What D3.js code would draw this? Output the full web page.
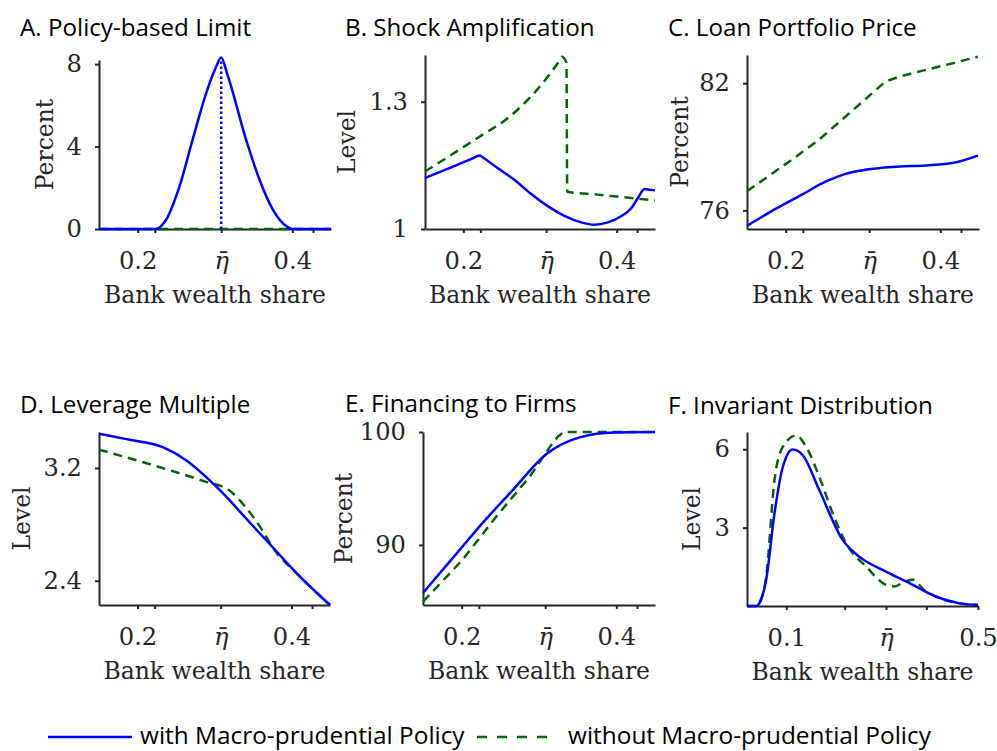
<!DOCTYPE html>
<html>
<head>
<meta charset="utf-8">
<script src="https://cdn.jsdelivr.net/npm/d3@7"></script>
<style>
  html, body { margin: 0; padding: 0; background: #fff; }
  svg { display: block; }
</style>
</head>
<body>
<svg id="chart" width="997" height="751"></svg>
<script>
// ---------------- DATA ----------------
const etaBar = 0.308;
const xDomainMain = [0.15, 0.45];
const xDomainDist = [0.018, 0.5];
const xTicksMain = [0.2, 0.2222, etaBar, 0.4, 0.4267];
const xTickLabelsMain = ["0.2", "", "η\u0304", "0.4", ""];
const xTicksDist = [0.1, 0.2217, etaBar, 0.3923, 0.5];
const xTickLabelsDist = ["0.1", "", "η\u0304", "", "0.5"];

const seriesNames = ["with Macro-prudential Policy", "without Macro-prudential Policy"];
const titles = ["A. Policy-based Limit", "B. Shock Amplification", "C. Loan Portfolio Price",
                "D. Leverage Multiple", "E. Financing to Firms", "F. Invariant Distribution"];
const yLabels = ["Percent", "Level", "Percent", "Level", "Percent", "Level"];
const xLabel = "Bank wealth share";

// A. Policy-based limit (percent)
const limitWith = [[0.15,0],[0.2225,0],[0.2368,0.45],[0.254,2.06],[0.271,4.32],[0.2885,6.58],
  [0.3015,7.87],[0.308,8.32],[0.316,7.5],[0.3403,4.32],[0.3576,2.39],[0.375,0.93],
  [0.3925,0.13],[0.40,0],[0.45,0]];
const limitWithout = [[0.15,0],[0.45,0]];
const limitPeak = 8.32;
const yDomainA = [0, 8.2], yTicksA = [0, 4, 8];

// B. Shock amplification (level)
const ampWith = [[0.15,1.12],[0.185,1.146],[0.21,1.1645],[0.2216,1.173],[0.226,1.168],[0.2447,1.1435],
  [0.2664,1.116],[0.2882,1.083],[0.31,1.054],[0.3318,1.031],[0.3536,1.0157],[0.371,1.01],
  [0.3885,1.0157],[0.4059,1.03],[0.419,1.049],[0.4277,1.073],[0.4363,1.094],[0.4429,1.0925],[0.45,1.091]];
const ampWithout = [[0.15,1.1355],[0.2216,1.218],[0.2578,1.261],[0.2882,1.312],[0.3085,1.355],
  [0.3255,1.397],[0.3288,1.406],[0.3345,1.392],[0.3355,1.088],[0.3754,1.081],[0.419,1.073],[0.45,1.067]];
const yDomainB = [1, 1.41], yTicksB = [1, 1.3];

// C. Loan portfolio price (percent)
const priceWith = [[0.15,75.27],[0.178,75.88],[0.221,76.74],[0.2516,77.35],[0.2775,77.72],
  [0.3078,77.94],[0.338,78.05],[0.3814,78.12],[0.416,78.23],[0.4485,78.58]];
const priceWithout = [[0.15,76.9],[0.208,78.39],[0.243,79.33],[0.2775,80.43],[0.312,81.53],
  [0.329,82.08],[0.3468,82.31],[0.3814,82.63],[0.416,82.94],[0.4485,83.25]];
const yDomainC = [75.12, 83.33], yTicksC = [76, 82];

// D. Leverage multiple (level)
const levWith = [[0.15,3.443],[0.19,3.40],[0.232,3.349],[0.263,3.255],[0.307,3.042],[0.345,2.818],
  [0.375,2.641],[0.409,2.44],[0.45,2.228]];
const levWithout = [[0.15,3.33],[0.228,3.207],[0.289,3.101],[0.319,3.042],[0.340,2.924],
  [0.362,2.759],[0.375,2.641],[0.409,2.44],[0.45,2.228]];
const yDomainD = [2.228, 3.455], yTicksD = [2.4, 3.2];

// E. Financing to firms (percent)
const finWith = [[0.15,85.75],[0.201,89.85],[0.2229,91.62],[0.2664,94.88],[0.31,98.07],
  [0.3536,99.55],[0.397,99.96],[0.45,100]];
const finWithout = [[0.15,84.97],[0.201,88.67],[0.2447,92.51],[0.2882,96.06],[0.3144,98.72],
  [0.3245,99.6],[0.3318,100],[0.45,100]];
const yDomainE = [84.68, 100], yTicksE = [90, 100];

// F. Invariant distribution (level)
const distWith = [[0.018,0],[0.0375,0],[0.045,0.15],[0.0579,0.99],[0.0753,3.54],[0.0927,5.32],
  [0.1136,5.99],[0.1345,5.77],[0.169,4.43],[0.218,2.52],[0.253,1.88],[0.309,1.31],[0.358,0.87],
  [0.413,0.355],[0.462,0.1],[0.5,0.04]];
const distWithout = [[0.018,0],[0.0375,0],[0.045,0.15],[0.0579,1.1],[0.0753,4.81],[0.0927,6.09],
  [0.1206,6.53],[0.1414,6.09],[0.169,4.94],[0.197,3.54],[0.225,2.39],[0.267,1.5],[0.309,0.8],
  [0.325,0.75],[0.35,0.95],[0.365,1.0],[0.3875,0.61],[0.413,0.355],[0.462,0.1],[0.5,0.04]];
const yDomainF = [0, 6.66], yTicksF = [3, 6];

// ---------------- LAYOUT / STYLE ----------------
const COL_WITH = "#0000ff";
const COL_WITHOUT = "#0a600a";
const AXIS_COL = "#262626";
const SERIF = "'DejaVu Serif', serif";
const SANS = "'Open Sans', Lato, sans-serif";

const panels = [
  { title: titles[0], box: {l:99, r:331, t:60, b:229}, titleX: 20, titleY: 36, ylabOff: 46,
    xd: xDomainMain, xt: xTicksMain, xl: xTickLabelsMain, yd: yDomainA, yt: yTicksA, yl: yLabels[0],
    w: limitWith, wo: limitWithout, curveW: d3.curveMonotoneX, curveWO: d3.curveLinear, marker: true },
  { title: titles[1], box: {l:425, r:655, t:55, b:229}, titleX: 345, titleY: 36, ylabOff: 70,
    xd: xDomainMain, xt: xTicksMain, xl: xTickLabelsMain, yd: yDomainB, yt: yTicksB, yl: yLabels[1],
    w: ampWith, wo: ampWithout, curveW: d3.curveMonotoneX, curveWO: d3.curveMonotoneX },
  { title: titles[2], box: {l:747, r:979, t:55, b:229}, titleX: 668, titleY: 36, ylabOff: 59,
    xd: xDomainMain, xt: xTicksMain, xl: xTickLabelsMain, yd: yDomainC, yt: yTicksC, yl: yLabels[2],
    w: priceWith, wo: priceWithout, curveW: d3.curveMonotoneX, curveWO: d3.curveLinear },
  { title: titles[3], box: {l:99, r:330, t:432, b:605}, titleX: 20, titleY: 413, ylabOff: 69,
    xd: xDomainMain, xt: xTicksMain, xl: xTickLabelsMain, yd: yDomainD, yt: yTicksD, yl: yLabels[3],
    w: levWith, wo: levWithout, curveW: d3.curveMonotoneX, curveWO: d3.curveMonotoneX },
  { title: titles[4], box: {l:423, r:655, t:432, b:605}, titleX: 345, titleY: 412, ylabOff: 71,
    xd: xDomainMain, xt: xTicksMain, xl: xTickLabelsMain, yd: yDomainE, yt: yTicksE, yl: yLabels[4],
    w: finWith, wo: finWithout, curveW: d3.curveMonotoneX, curveWO: d3.curveLinear },
  { title: titles[5], box: {l:747, r:978, t:432, b:606}, titleX: 668, titleY: 414, ylabOff: 47,
    xd: xDomainDist, xt: xTicksDist, xl: xTickLabelsDist, yd: yDomainF, yt: yTicksF, yl: yLabels[5],
    w: distWith, wo: distWithout, curveW: d3.curveMonotoneX, curveWO: d3.curveMonotoneX }
];

const svg = d3.select("#chart");

panels.forEach(p => {
  const x = d3.scaleLinear().domain(p.xd).range([p.box.l, p.box.r]);
  const y = d3.scaleLinear().domain(p.yd).range([p.box.b, p.box.t]);
  const g = svg.append("g");

  // title
  g.append("text").attr("x", p.titleX).attr("y", p.titleY)
    .attr("font-family", SANS).attr("font-size", 24.2).attr("fill", "#000")
    .text(p.title);

  const lineW = d3.line().x(d => x(d[0])).y(d => y(d[1])).curve(p.curveW);
  const lineWO = d3.line().x(d => x(d[0])).y(d => y(d[1])).curve(p.curveWO);

  // x axis
  const xAxis = d3.axisBottom(x).tickValues(p.xt).tickFormat((d, i) => p.xl[i])
    .tickSizeInner(4).tickSizeOuter(0).tickPadding(19);
  const gx = g.append("g").attr("transform", `translate(0,${p.box.b})`).call(xAxis);
  // y axis
  const yAxis = d3.axisLeft(y).tickValues(p.yt).tickFormat(d3.format("~g"))
    .tickSizeInner(4).tickSizeOuter(0).tickPadding(13);
  const gy = g.append("g").attr("transform", `translate(${p.box.l},0)`).call(yAxis);

  [gx, gy].forEach(a => {
    a.select(".domain").attr("stroke", AXIS_COL).attr("stroke-width", 2);
    a.selectAll(".tick line").attr("stroke", AXIS_COL).attr("stroke-width", 2);
    a.selectAll(".tick text").attr("fill", AXIS_COL).attr("font-family", SERIF).attr("font-size", 24.2);
  });
  gx.selectAll(".tick text").filter(d => d === etaBar).attr("font-style", "italic");

  g.append("path").datum(p.wo).attr("d", lineWO).attr("fill", "none")
    .attr("stroke", COL_WITHOUT).attr("stroke-width", 2.5).attr("stroke-dasharray", "9,6");
  g.append("path").datum(p.w).attr("d", lineW).attr("fill", "none")
    .attr("stroke", COL_WITH).attr("stroke-width", 2.5);

  if (p.marker) {
    g.append("line").attr("x1", x(etaBar)).attr("x2", x(etaBar))
      .attr("y1", y(0)).attr("y2", y(limitPeak))
      .attr("stroke", COL_WITH).attr("stroke-width", 2.5).attr("stroke-dasharray", "2.5,2.5");
  }

  // x label
  g.append("text").attr("x", (p.box.l + p.box.r) / 2).attr("y", p.box.b + 74)
    .attr("text-anchor", "middle").attr("font-family", SERIF).attr("font-size", 23.5)
    .attr("fill", AXIS_COL).text(xLabel);
  // y label
  const ly = (p.box.t + p.box.b) / 2, lx = p.box.l - p.ylabOff;
  g.append("text").attr("transform", `translate(${lx},${ly}) rotate(-90)`)
    .attr("text-anchor", "middle").attr("font-family", SERIF).attr("font-size", 23.5)
    .attr("fill", AXIS_COL).text(p.yl);
});

// legend
const leg = svg.append("g");
leg.append("line").attr("x1", 48).attr("x2", 132).attr("y1", 737).attr("y2", 737)
  .attr("stroke", COL_WITH).attr("stroke-width", 2.5);
leg.append("text").attr("x", 140).attr("y", 744).attr("font-family", SANS).attr("font-size", 24.4)
  .attr("fill", "#000").text(seriesNames[0]);
leg.append("line").attr("x1", 477).attr("x2", 553).attr("y1", 737).attr("y2", 737)
  .attr("stroke", COL_WITHOUT).attr("stroke-width", 2.5).attr("stroke-dasharray", "10,10");
leg.append("text").attr("x", 568).attr("y", 744).attr("font-family", SANS).attr("font-size", 24.4)
  .attr("fill", "#000").text(seriesNames[1]);
</script>
</body>
</html>
